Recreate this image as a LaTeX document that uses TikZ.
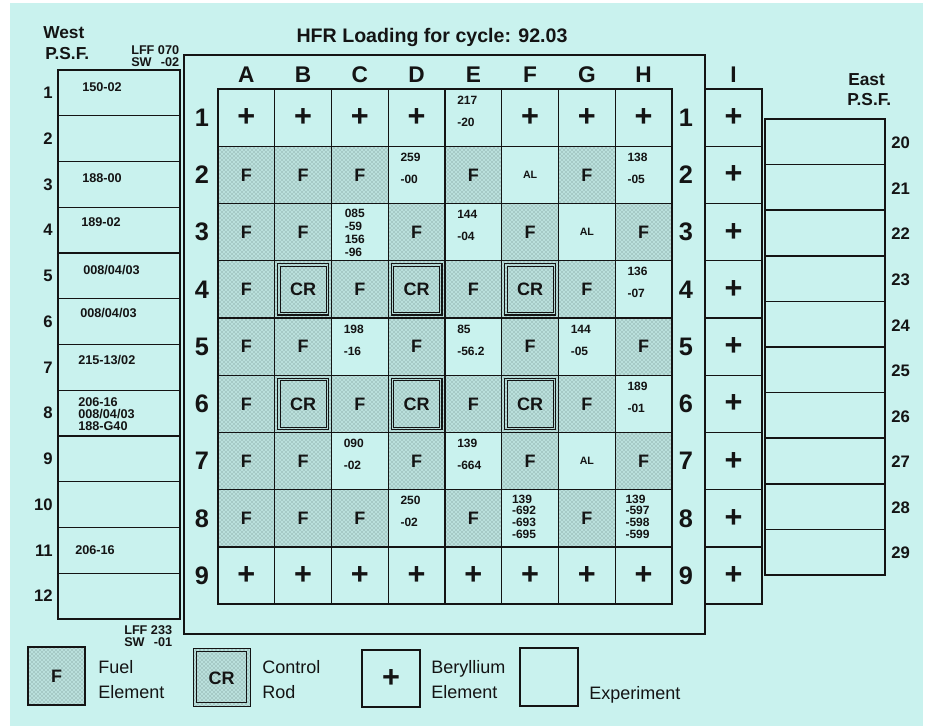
\documentclass[tikz,border=0pt]{standalone}
\usepackage{fontspec}
\setmainfont{Liberation Sans}
\usetikzlibrary{patterns}
\definecolor{bg}{HTML}{C9F2EE}
\definecolor{shadefill}{HTML}{BAE0DC}
\definecolor{dotcol}{HTML}{66827F}
\definecolor{ink}{HTML}{141414}

\newcommand\cellLT[2]{\pgfmathsetmacro\lx{218+(#1-1)*56.75}\pgfmathsetmacro\ty{89+(#2-1)*57.25}}
\newcommand\Fc[2]{\cellLT{#1}{#2}\fill[fuelshade] (\lx,\ty) rectangle ++(56.75,57.25);
  \node[fuellbl] (f-#1-#2) at (\lx+28.375,\ty+28.625) {F};}
\newcommand\CRc[2]{\cellLT{#1}{#2}\fill[fuelshade] (\lx,\ty) rectangle ++(56.75,57.25);
  \draw[draw=ink,line width=1.1pt] (\lx+3,\ty+3) rectangle (\lx+53.75,\ty+54.25);
  \draw[draw=ink,line width=0.5pt] (\lx+5.5,\ty+5.5) rectangle (\lx+51.25,\ty+51.75);
  \node[fuellbl] (cr-#1-#2) at (\lx+28.375,\ty+28.625) {CR};}
\newcommand\Bc[2]{\cellLT{#1}{#2}\node[pluslbl] (be-#1-#2) at (\lx+28.375,\ty+28.625) {+};}
\newcommand\ALc[2]{\cellLT{#1}{#2}\node[allbl] (al-#1-#2) at (\lx+28.375,\ty+28.625) {AL};}
\newcommand\Nc[4]{\cellLT{#1}{#2}\node[numlbl] (n-#1-#2) at (\lx+12,\ty+22) {#3\\#4};}
\newcommand\NNc[9]{\cellLT{#1}{#2}\node[numfour,font=\fontsize{9}{#3}\bfseries] (n-#1-#2) at (\lx+#4,\ty+#5) {#6\\#7\\#8\\#9};}

\begin{document}
\begin{tikzpicture}[x=0.75pt,y=-0.75pt,
  fuelshade/.style={fill=shadefill,postaction={pattern=crosshatch dots,pattern color=dotcol}},
  gridline/.style={draw=ink,line width=1.1pt},
  frameline/.style={draw=ink,line width=1.5pt},
  rowlbl/.style={font=\fontsize{19}{21}\bfseries,inner sep=0pt,text=ink},
  collbl/.style={font=\fontsize{17}{19}\bfseries,inner sep=0pt,text=ink},
  fuellbl/.style={font=\fontsize{13.5}{15}\bfseries,inner sep=0pt,text=ink},
  pluslbl/.style={font=\fontsize{23}{24}\bfseries,inner sep=0pt,text=ink},
  allbl/.style={font=\fontsize{8}{9}\bfseries,inner sep=0pt,text=ink},
  numlbl/.style={font=\fontsize{9}{16.5}\bfseries,align=left,anchor=west,inner sep=0pt,text=ink},
  numfour/.style={align=left,anchor=north west,inner sep=0pt,text=ink},
  psftext/.style={font=\fontsize{9.5}{9}\bfseries,align=left,anchor=west,inner sep=0pt,text=ink},
  psfnum/.style={font=\fontsize{12.5}{14}\bfseries,inner sep=0pt,text=ink},
  headlbl/.style={font=\fontsize{13}{15}\bfseries,inner sep=0pt,anchor=west,text=ink},
  smalllbl/.style={font=\fontsize{9.5}{8.3}\bfseries,inner sep=0pt,text=ink},
  legtext/.style={font=\fontsize{13.5}{16}\selectfont,anchor=base west,inner sep=0pt,text=ink},
  boxline/.style={draw=ink,line width=1.1pt}]
\useasboundingbox (0,0) rectangle (930,726);
\fill[white] (0,0) rectangle (930,726);
\fill[bg] (10,3) rectangle (923,726);

% title
\node[font=\fontsize{14.7}{17}\bfseries,anchor=base,inner sep=0pt,text=ink] (title) at (432,42) {HFR Loading for cycle: 92.03};

% main frame
\draw[frameline] (184,55) rectangle (705,634);

% cells
\foreach \c in {1,2,3,4,6,7,8} {\Bc{\c}{1}}
\foreach \c in {1,...,8} {\Bc{\c}{9}}
\Nc{5}{1}{217}{-20}
% row 2
\Fc{1}{2}\Fc{2}{2}\Fc{3}{2}\Nc{4}{2}{259}{-00}\Fc{5}{2}\ALc{6}{2}\Fc{7}{2}\Nc{8}{2}{138}{-05}
% row 3
\Fc{1}{3}\Fc{2}{3}\NNc{3}{3}{9.75}{13}{5.7}{085}{-59}{156}{-96}\Fc{4}{3}\Nc{5}{3}{144}{-04}\Fc{6}{3}\ALc{7}{3}\Fc{8}{3}
% row 4
\Fc{1}{4}\CRc{2}{4}\Fc{3}{4}\CRc{4}{4}\Fc{5}{4}\CRc{6}{4}\Fc{7}{4}\Nc{8}{4}{136}{-07}
% row 5
\Fc{1}{5}\Fc{2}{5}\Nc{3}{5}{198}{-16}\Fc{4}{5}\Nc{5}{5}{85}{-56.2}\Fc{6}{5}\Nc{7}{5}{144}{-05}\Fc{8}{5}
% row 6
\Fc{1}{6}\CRc{2}{6}\Fc{3}{6}\CRc{4}{6}\Fc{5}{6}\CRc{6}{6}\Fc{7}{6}\Nc{8}{6}{189}{-01}
% row 7
\Fc{1}{7}\Fc{2}{7}\Nc{3}{7}{090}{-02}\Fc{4}{7}\Nc{5}{7}{139}{-664}\Fc{6}{7}\ALc{7}{7}\Fc{8}{7}
% row 8
\Fc{1}{8}\Fc{2}{8}\Fc{3}{8}\Nc{4}{8}{250}{-02}\Fc{5}{8}\NNc{6}{8}{8.8}{10}{4.7}{139}{-692}{-693}{-695}\Fc{7}{8}\NNc{8}{8}{8.8}{10}{4.7}{139}{-597}{-598}{-599}

% grid lines
\foreach \i in {0,...,8} \draw[gridline] ({218+\i*56.75},89) -- ({218+\i*56.75},604);
\foreach \j in {0,...,9} \draw[gridline] (218,{89+\j*57.25}) -- (672,{89+\j*57.25});
\draw[draw=ink,line width=1.4pt] (218,89) rectangle (672,604);

% column letters
\foreach \L [count=\i] in {A,B,C,D,E,F,G,H}
  \node[collbl] (col-\L) at ({218+(\i-0.5)*56.75},75) {\L};
\node[collbl] (col-I) at (733.5,75) {I};

% row numbers
\foreach \r in {1,...,9} {
  \node[rowlbl] (rl-\r) at (202,{89+(\r-0.5)*57.25}) {\r};
  \node[rowlbl] (rr-\r) at (686,{89+(\r-0.5)*57.25}) {\r};
}

% column I
\draw[gridline] (705,89) rectangle (762,604);
\foreach \j in {1,...,8} \draw[gridline] (705,{89+\j*57.25}) -- (762,{89+\j*57.25});
\foreach \r in {1,...,9} \node[pluslbl] (be-I-\r) at (733.5,{89+(\r-0.5)*57.25}) {+};

% West PSF
\draw[gridline] (58,70) rectangle (180,619);
\foreach \j in {1,...,11} \draw[gridline] (58,{70+\j*45.75}) -- (180,{70+\j*45.75});
\foreach \r in {1,...,12} \node[psfnum,anchor=east] (wl-\r) at (53,{70+(\r-0.5)*45.75}) {\r};
\node[headlbl] (west1) at (43,33) {West};
\node[headlbl] (west2) at (45,54) {P.S.F.};
\node[smalllbl,anchor=west] (lfftop) at (131,57.5) {\begin{tabular}{@{}l@{\ }r@{}}LFF&070\\SW&-02\end{tabular}};
\node[smalllbl,anchor=west] (lffbot) at (124,638) {\begin{tabular}{@{}l@{\ }r@{}}LFF&233\\SW&-01\end{tabular}};

\node[psftext] (w-1) at (82,87) {150-02};
\node[psftext] (w-3) at (82,178) {188-00};
\node[psftext] (w-4) at (81,222) {189-02};
\node[psftext] (w-5) at (83,270) {008/04/03};
\node[psftext] (w-6) at (80,313) {008/04/03};
\node[psftext] (w-7) at (78,360) {215-13/02};
\node[psftext] (w-8) at (78,414) {206-16\\008/04/03\\188-G40};
\node[psftext] (w-11) at (75,550) {206-16};

% East PSF
\draw[gridline] (765,119) rectangle (885,575);
\foreach \j in {1,...,9} \draw[gridline] (765,{119+\j*45.6}) -- (885,{119+\j*45.6});
\foreach \r [count=\k] in {20,...,29} \node[psfnum,anchor=west] (el-\r) at (891,{119+(\k-0.5)*45.6+1}) {\r};
\node[headlbl] (east1) at (848,80) {East};
\node[headlbl] (east2) at (847,100) {P.S.F.};

% legend
\fill[fuelshade] (28,647) rectangle (85,705);
\draw[boxline] (28,647) rectangle (85,705);
\node[fuellbl] (legF) at (56.5,676) {F};
\node[legtext] (legFuel1) at (98,673) {Fuel};
\node[legtext] (legFuel2) at (98,698) {Element};

\fill[fuelshade] (193,648) rectangle (250,706);
\draw[draw=ink,line width=0.7pt] (193,648) rectangle (250,706);
\draw[draw=ink,line width=1.3pt] (196.5,651.5) rectangle (246.5,702.5);
\node[fuellbl] (legCR) at (221.5,678) {CR};
\node[legtext] (legCR1) at (262,673) {Control};
\node[legtext] (legCR2) at (262,698) {Rod};

\draw[boxline] (362,650) rectangle (420,707);
\node[pluslbl] (legBe) at (391,678) {+};
\node[legtext] (legBe1) at (431,673) {Beryllium};
\node[legtext] (legBe2) at (431,698) {Element};

\draw[boxline] (520,648) rectangle (578,706);
\node[legtext] (legEx) at (589,699) {Experiment};
\end{tikzpicture}
\end{document}
